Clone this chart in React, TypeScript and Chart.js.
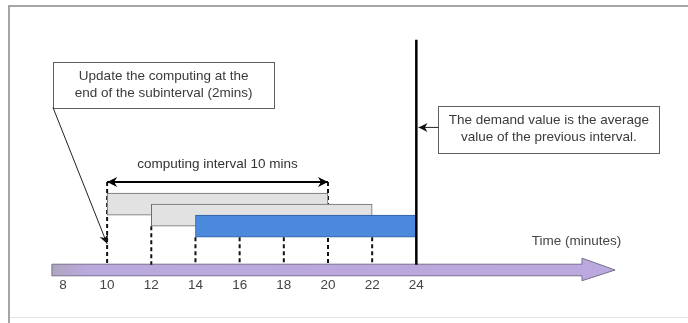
import React, { useEffect, useRef } from 'react';
import { Chart, registerables } from 'chart.js';

Chart.register(...registerables);

// ---- data (minutes on x, abstract "level" on y) ----
const TICK_VALUES = [8, 10, 12, 14, 16, 18, 20, 22, 24];
const WINDOW_START = [10, 12, 14];
const WINDOW_END = [20, 22, 24];
const WINDOW_LEVEL = [6.5, 5.5, 4.5];
const GUIDE_TIMES = [10, 12, 14, 16, 18, 20, 22];
const GUIDE_TOPS = [8.5, 4.5, 3.5, 3.5, 3.5, 8.5, 3.5];
const GUIDE_BOTTOM = 1;
const DEMAND_TIME = 24;
const DEMAND_RANGE = [1, 21.4];
const COMPUTING_SPAN = [10, 20];
const COMPUTING_LEVEL = 8.5;
const TIME_ARROW_X = [7.5, 31.5, 33]; // tail, head base, tip
const TIME_ARROW_Y = [0, 1.05, -0.45, 1.6]; // shaft bottom, shaft top, head bottom, head top

const SPAN_LABEL = 'computing interval 10 mins';
const SPAN_LABEL_POS = [15, 10.1];
const AXIS_TITLE = 'Time (minutes)';
const AXIS_TITLE_POS = [31.25, 3.16];
const NOTE1_LINES = ['Update the computing at the', 'end of the subinterval (2mins)'];
const NOTE1_BOX = [7.55, 17.57, 15.25, 19.4];
const NOTE1_POINTER = [7.55, 15.25, 10, 2.9];
const NOTE2_LINES = ['The demand value is the average', 'value of the previous interval.'];
const NOTE2_BOX = [25, 35, 11.19, 15.43];
const NOTE2_POINTER = [25, 13.45, 24.1, 13.45];

const FONT = '"Liberation Sans", Arial, sans-serif';

function arrowHead(ctx: CanvasRenderingContext2D, x0: number, y0: number, x1: number, y1: number, len: number, half: number) {
  const a = Math.atan2(y1 - y0, x1 - x0);
  ctx.save();
  ctx.translate(x1, y1);
  ctx.rotate(a);
  ctx.beginPath();
  ctx.moveTo(0, 0);
  ctx.lineTo(-len, -half);
  ctx.lineTo(-len * 0.7, 0);
  ctx.lineTo(-len, half);
  ctx.closePath();
  ctx.fill();
  ctx.restore();
}

const diagramPlugin = {
  id: 'diagram',
  beforeDraw(chart: any) {
    const ctx = chart.ctx as CanvasRenderingContext2D;
    ctx.save();
    ctx.fillStyle = '#ffffff';
    ctx.fillRect(0, 0, chart.width, chart.height);
    ctx.strokeStyle = '#a5a5a5';
    ctx.lineWidth = 2;
    ctx.beginPath();
    ctx.moveTo(9, chart.height);
    ctx.lineTo(9, 6);
    ctx.lineTo(chart.width, 6);
    ctx.stroke();
    ctx.strokeStyle = '#e4e4e4';
    ctx.lineWidth = 1;
    ctx.beginPath();
    ctx.moveTo(10, 317.5);
    ctx.lineTo(chart.width, 317.5);
    ctx.stroke();
    ctx.restore();
  },
  beforeDatasetsDraw(chart: any) {
    const ctx = chart.ctx as CanvasRenderingContext2D;
    const xs = chart.scales.x;
    const ys = chart.scales.y;
    const X = (v: number) => xs.getPixelForValue(v);
    const Y = (v: number) => ys.getPixelForValue(v);
    const [tail, base, tip] = TIME_ARROW_X;
    const [sb, st, hb, ht] = TIME_ARROW_Y;
    const mid = (sb + st) / 2;
    ctx.save();
    const g = ctx.createLinearGradient(X(tail), 0, X(tip), 0);
    g.addColorStop(0, '#aea6c0');
    g.addColorStop(0.06, '#baa9dc');
    g.addColorStop(1, '#bba8de');
    ctx.fillStyle = g;
    ctx.strokeStyle = '#77708c';
    ctx.lineWidth = 1;
    ctx.beginPath();
    ctx.moveTo(X(tail), Y(sb));
    ctx.lineTo(X(base), Y(sb));
    ctx.lineTo(X(base), Y(hb));
    ctx.lineTo(X(tip), Y(mid));
    ctx.lineTo(X(base), Y(ht));
    ctx.lineTo(X(base), Y(st));
    ctx.lineTo(X(tail), Y(st));
    ctx.closePath();
    ctx.fill();
    ctx.stroke();
    ctx.restore();
  },
  afterDatasetsDraw(chart: any) {
    const ctx = chart.ctx as CanvasRenderingContext2D;
    const xs = chart.scales.x;
    const ys = chart.scales.y;
    const X = (v: number) => xs.getPixelForValue(v);
    const Y = (v: number) => ys.getPixelForValue(v);
    ctx.save();
    // computing-interval arrowheads (read from the dataset's points)
    const spanMeta = chart.getDatasetMeta(3);
    const p0 = spanMeta.data[0];
    const p1 = spanMeta.data[1];
    ctx.fillStyle = '#000';
    arrowHead(ctx, p1.x, p1.y, p0.x, p0.y, 10, 5);
    arrowHead(ctx, p0.x, p0.y, p1.x, p1.y, 10, 5);

    ctx.font = `13.5px ${FONT}`;
    ctx.fillStyle = '#333';
    ctx.textAlign = 'center';
    ctx.textBaseline = 'middle';
    ctx.fillText(SPAN_LABEL, X(SPAN_LABEL_POS[0]), Y(SPAN_LABEL_POS[1]));
    ctx.fillStyle = '#444';
    ctx.fillText(AXIS_TITLE, X(AXIS_TITLE_POS[0]), Y(AXIS_TITLE_POS[1]));

    const drawNote = (box: number[], lines: string[], ptr: number[]) => {
      const x0 = X(box[0]);
      const x1 = X(box[1]);
      const yb = Y(box[2]);
      const yt = Y(box[3]);
      ctx.fillStyle = '#fff';
      ctx.fillRect(x0, yt, x1 - x0, yb - yt);
      ctx.strokeStyle = '#5e5e5e';
      ctx.lineWidth = 1;
      ctx.strokeRect(Math.round(x0) + 0.5, Math.round(yt) + 0.5, Math.round(x1 - x0), Math.round(yb - yt));
      ctx.fillStyle = '#3a3a3a';
      const cx = (x0 + x1) / 2;
      const cy = (yt + yb) / 2;
      ctx.fillText(lines[0], cx, cy - 8.5);
      ctx.fillText(lines[1], cx, cy + 8.5);
      const ax = X(ptr[0]);
      const ay = Y(ptr[1]);
      const bx = X(ptr[2]);
      const by = Y(ptr[3]);
      ctx.strokeStyle = '#222';
      ctx.lineWidth = 1;
      ctx.beginPath();
      ctx.moveTo(ax, ay);
      ctx.lineTo(bx, by);
      ctx.stroke();
      ctx.fillStyle = '#111';
      arrowHead(ctx, ax, ay, bx, by, 9, 4.5);
    };
    drawNote(NOTE1_BOX, NOTE1_LINES, NOTE1_POINTER);
    drawNote(NOTE2_BOX, NOTE2_LINES, NOTE2_POINTER);
    ctx.restore();
  },
};

export default function App() {
  const ref = useRef<HTMLCanvasElement | null>(null);
  useEffect(() => {
    if (!ref.current) return;
    const guideData: any[] = [];
    GUIDE_TIMES.forEach((t, i) => {
      guideData.push({ x: t, y: GUIDE_TOPS[i] });
      guideData.push({ x: t, y: GUIDE_BOTTOM });
      guideData.push({ x: t, y: null });
    });
    const chart = new Chart(ref.current, {
      type: 'line',
      data: {
        datasets: [
          {
            type: 'bar',
            label: 'Computing windows',
            indexAxis: 'y',
            data: WINDOW_START.map((s, i) => ({ x: [s, WINDOW_END[i]], y: WINDOW_LEVEL[i] })),
            backgroundColor: ['#e2e2e2', '#e2e2e2', '#4a89dc'],
            borderColor: ['#6a6a6a', '#6a6a6a', '#2f5f9f'],
            borderWidth: 1,
            borderSkipped: false,
            barThickness: 22,
            order: 1,
          } as any,
          {
            label: 'Subinterval marks',
            data: guideData,
            borderColor: '#111',
            borderWidth: 2,
            borderDash: [4, 3],
            pointRadius: 0,
            spanGaps: false,
            order: 2,
          },
          {
            label: 'Demand instant',
            data: [
              { x: DEMAND_TIME, y: DEMAND_RANGE[0] },
              { x: DEMAND_TIME, y: DEMAND_RANGE[1] },
            ],
            borderColor: '#000',
            borderWidth: 2.5,
            pointRadius: 0,
            order: 0,
          },
          {
            label: 'Computing interval',
            data: [
              { x: COMPUTING_SPAN[0], y: COMPUTING_LEVEL },
              { x: COMPUTING_SPAN[1], y: COMPUTING_LEVEL },
            ],
            borderColor: '#000',
            borderWidth: 2,
            pointRadius: 0,
            order: 0,
          },
        ],
      },
      options: {
        animation: false,
        responsive: false,
        events: [],
        layout: { padding: { left: 0, right: 0, top: 0, bottom: 29 } },
        plugins: { legend: { display: false }, tooltip: { enabled: false } },
        scales: {
          x: {
            type: 'linear',
            min: 5.15,
            max: 36.3,
            offset: false,
            grid: { display: false, drawTicks: false },
            border: { display: false },
            afterBuildTicks: (axis: any) => {
              axis.ticks = TICK_VALUES.map((v) => ({ value: v }));
            },
            ticks: {
              padding: 1,
              color: '#444',
              autoSkip: false,
              maxRotation: 0,
              font: { family: FONT, size: 13.5 },
              callback: (v: any) => String(v),
            },
          },
          y: { type: 'linear', display: false, min: 0, max: 25, offset: false },
        },
      } as any,
      plugins: [diagramPlugin],
    });
    return () => chart.destroy();
  }, []);
  return (
    <div style={{ position: 'fixed', left: 0, top: 0, width: 688, height: 323, background: '#fff' }}>
      <canvas ref={ref} width={688} height={323} style={{ display: 'block' }} />
    </div>
  );
}
